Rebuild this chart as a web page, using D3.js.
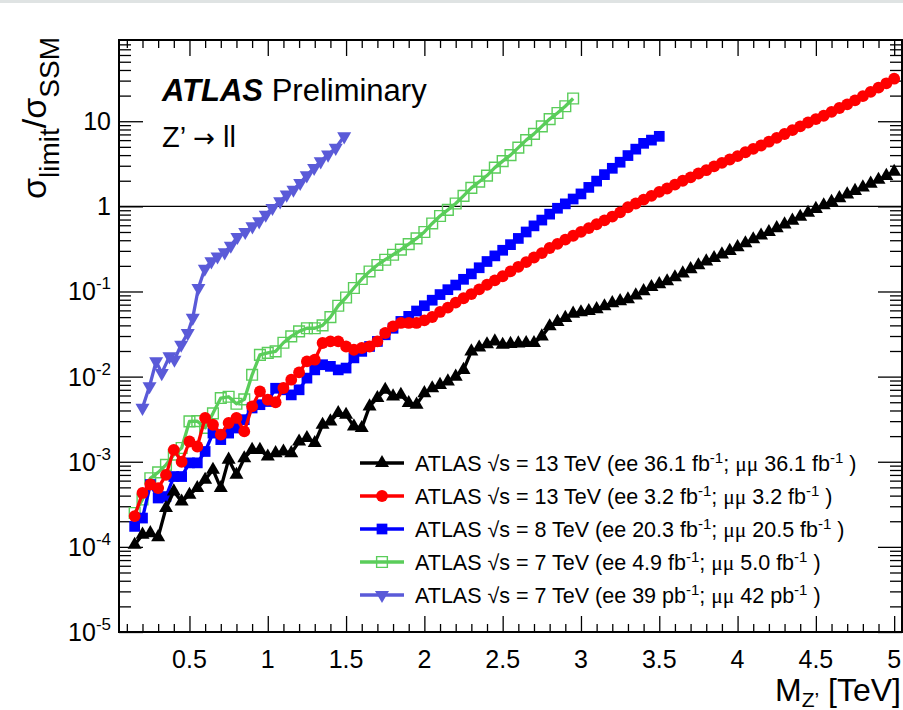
<!DOCTYPE html>
<html>
<head>
<meta charset="utf-8">
<script src="https://cdn.jsdelivr.net/npm/d3@7"></script>
<style>
body{margin:0;background:#fff;}
svg{display:block;}
text{font-family:"Liberation Sans",Arial,Helvetica,sans-serif;fill:#000;}
</style>
</head>
<body>
<div id="chart"></div>
<script>
//////////////////////データ//////////////////////
// 13 TeV 36.1 fb-1 (黒 三角)
var black_pts=[[0.15,1.06e-4],[0.20,1.39e-4],[0.25,1.45e-4],[0.30,1.30e-4],[0.35,2.86e-4],[0.40,4.48e-4],[0.45,3.41e-4],[0.50,4.09e-4],[0.55,4.91e-4],[0.60,6.14e-4],[0.65,8.05e-4],[0.70,4.91e-4],[0.75,1.06e-3],[0.80,7.03e-4],[0.85,1.10e-3],[0.90,1.38e-3],[0.95,1.38e-3],[1.00,1.15e-3],[1.05,1.26e-3],[1.10,1.32e-3],[1.15,1.26e-3],[1.20,1.73e-3],[1.25,1.90e-3],[1.30,1.66e-3],[1.35,2.72e-3],[1.40,2.98e-3],[1.45,3.73e-3],[1.50,3.56e-3],[1.55,2.60e-3],[1.60,2.49e-3],[1.65,4.47e-3],[1.70,5.61e-3],[1.75,7.0e-3],[1.80,5.85e-3],[1.85,6.12e-3],[1.90,4.9e-3],[1.95,4.68e-3],[2.00,6.4e-3],[2.05,7.3e-3],[2.10,8.0e-3],[2.15,8.8e-3],[2.20,1.0e-2],[2.25,1.2e-2],[2.30,1.98e-2],[2.35,2.2e-2],[2.40,2.4e-2],[2.45,2.59e-2],[2.50,2.37e-2],[2.55,2.42e-2],[2.60,2.46e-2],[2.65,2.48e-2],[2.70,2.48e-2],[2.75,2.97e-2],[2.80,3.9e-2],[2.85,4.4e-2],[2.90,4.9e-2],[2.95,5.5e-2],[3.00,5.7e-2],[3.05,5.9e-2],[3.10,6.2e-2],[3.15,6.7e-2],[3.20,7.3e-2],[3.25,7.7e-2],[3.30,8.1e-2],[3.35,9.0e-2],[3.40,0.101],[3.45,0.113],[3.50,0.122],[3.55,0.132],[3.60,0.147],[3.65,0.163],[3.70,0.183],[3.75,0.203],[3.80,0.226],[3.85,0.247],[3.90,0.273],[3.95,0.30],[4.00,0.332],[4.05,0.368],[4.10,0.41],[4.15,0.455],[4.20,0.50],[4.25,0.555],[4.30,0.615],[4.35,0.68],[4.40,0.755],[4.45,0.84],[4.50,0.935],[4.55,1.03],[4.60,1.13],[4.65,1.25],[4.70,1.38],[4.75,1.52],[4.80,1.67],[4.85,1.85],[4.90,2.05],[4.95,2.28],[5.00,2.55]];
// 13 TeV 3.2 fb-1 (赤 丸)
var red_pts=[[0.15,2.3e-4],[0.20,4.3e-4],[0.25,5.4e-4],[0.30,4.9e-4],[0.35,7.0e-4],[0.40,1.38e-3],[0.45,1.0e-3],[0.50,1.73e-3],[0.55,1.51e-3],[0.60,3.27e-3],[0.65,2.72e-3],[0.70,2.08e-3],[0.75,2.85e-3],[0.80,3.27e-3],[0.85,2.27e-3],[0.90,4.47e-3],[0.95,6.7e-3],[1.00,5.35e-3],[1.05,5.0e-3],[1.10,7.35e-3],[1.15,9.2e-3],[1.20,1.12e-2],[1.25,1.51e-2],[1.30,1.58e-2],[1.35,2.48e-2],[1.40,2.59e-2],[1.45,2.59e-2],[1.50,2.26e-2],[1.55,2.07e-2],[1.60,2.17e-2],[1.65,2.26e-2],[1.70,2.59e-2],[1.75,3.25e-2],[1.80,3.89e-2],[1.85,4.27e-2],[1.90,0.0427],[1.95,0.0427],[2.00,0.0457],[2.05,0.0501],[2.10,0.0575],[2.15,0.0646],[2.20,0.0741],[2.25,0.0832],[2.30,0.0933],[2.35,0.106],[2.40,0.120],[2.45,0.135],[2.50,0.151],[2.55,0.172],[2.60,0.195],[2.65,0.221],[2.70,0.251],[2.75,0.282],[2.80,0.324],[2.85,0.363],[2.90,0.407],[2.95,0.452],[3.00,0.501],[3.05,0.556],[3.10,0.617],[3.15,0.684],[3.20,0.759],[3.25,0.851],[3.30,0.977],[3.35,1.08],[3.40,1.20],[3.45,1.33],[3.50,1.48],[3.55,1.62],[3.60,1.80],[3.65,2.00],[3.70,2.19],[3.75,2.43],[3.80,2.66],[3.85,2.95],[3.90,3.24],[3.95,3.55],[4.00,3.89],[4.05,4.32],[4.10,4.73],[4.15,5.19],[4.20,5.75],[4.25,6.38],[4.30,7.08],[4.35,7.85],[4.40,8.71],[4.45,9.66],[4.50,10.6],[4.55,11.6],[4.60,12.9],[4.65,14.3],[4.70,15.8],[4.75,17.6],[4.80,19.7],[4.85,22.1],[4.90,24.8],[4.95,27.9],[5.00,31.6]];
// 8 TeV (青 四角)
var blue_pts=[[0.15,1.74e-4],[0.20,2.18e-4],[0.25,5.4e-4],[0.30,3.75e-4],[0.35,3.9e-4],[0.40,6.7e-4],[0.45,6.7e-4],[0.50,9.7e-4],[0.55,9.7e-4],[0.60,1.32e-3],[0.65,2.17e-3],[0.70,1.82e-3],[0.75,2.17e-3],[0.80,2.49e-3],[0.85,3.12e-3],[0.90,4.28e-3],[0.95,4.68e-3],[1.00,5.1e-3],[1.05,7.3e-3],[1.10,7.0e-3],[1.15,6.1e-3],[1.20,7.0e-3],[1.25,9.6e-3],[1.30,1.2e-2],[1.35,1.38e-2],[1.40,1.32e-2],[1.45,1.2e-2],[1.50,1.26e-2],[1.55,1.66e-2],[1.60,1.98e-2],[1.65,2.26e-2],[1.70,2.59e-2],[1.75,3.1e-2],[1.80,3.7e-2],[1.85,4.45e-2],[1.90,0.051],[1.95,0.059],[2.00,0.068],[2.05,0.079],[2.10,0.092],[2.15,0.105],[2.20,0.119],[2.25,0.139],[2.30,0.161],[2.35,0.190],[2.40,0.225],[2.45,0.262],[2.50,0.305],[2.55,0.355],[2.60,0.42],[2.65,0.50],[2.70,0.59],[2.75,0.69],[2.80,0.81],[2.85,0.95],[2.90,1.07],[2.95,1.22],[3.00,1.40],[3.05,1.67],[3.10,1.98],[3.15,2.36],[3.20,2.80],[3.25,3.30],[3.30,3.95],[3.35,4.70],[3.40,5.5],[3.45,6.0],[3.50,6.65]];
// 7 TeV 4.9 fb-1 (緑 白抜き四角)
var green_pts=[[0.15,2.5e-4],[0.20,3.6e-4],[0.25,6.4e-4],[0.30,7.5e-4],[0.35,9.2e-4],[0.40,1.21e-3],[0.45,1.45e-3],[0.50,2.98e-3],[0.55,3.0e-3],[0.60,2.5e-3],[0.65,3.7e-3],[0.70,5.6e-3],[0.75,5.8e-3],[0.80,4.8e-3],[0.85,5.4e-3],[0.90,1.05e-2],[0.95,1.8e-2],[1.00,1.9e-2],[1.05,1.98e-2],[1.10,2.5e-2],[1.15,2.97e-2],[1.20,3.4e-2],[1.25,3.7e-2],[1.30,3.7e-2],[1.35,4.0e-2],[1.40,5.0e-2],[1.45,6.8e-2],[1.50,8.5e-2],[1.55,0.11],[1.60,0.14],[1.65,0.172],[1.70,0.205],[1.75,0.236],[1.80,0.27],[1.85,0.31],[1.90,0.36],[1.95,0.42],[2.00,0.50],[2.05,0.63],[2.10,0.77],[2.15,0.91],[2.20,1.08],[2.25,1.33],[2.30,1.65],[2.35,1.95],[2.40,2.3],[2.45,2.85],[2.50,3.4],[2.55,4.0],[2.60,4.9],[2.65,6.0],[2.70,7.1],[2.75,8.7],[2.80,10.6],[2.85,12.5],[2.90,15.0],[2.95,18.5]];
// 7 TeV 39 pb-1 (紫 下三角)
var purple_pts=[[0.20,4.3e-3],[0.245,7.7e-3],[0.287,1.51e-2],[0.323,1.10e-2],[0.372,1.73e-2],[0.404,1.58e-2],[0.447,2.37e-2],[0.489,3.25e-2],[0.521,4.9e-2],[0.557,0.110],[0.598,0.185],[0.640,0.226],[0.679,0.258],[0.725,0.288],[0.764,0.345],[0.806,0.437],[0.856,0.500],[0.902,0.582],[0.945,0.667],[0.987,0.798],[1.030,0.958],[1.079,1.146],[1.121,1.372],[1.164,1.57],[1.207,1.88],[1.249,2.31],[1.296,2.82],[1.338,3.38],[1.385,4.05],[1.434,4.86],[1.488,6.65]];

var x_ticks=[0.5,1,1.5,2,2.5,3,3.5,4,4.5,5];
var x_tick_labels=["0.5","1","1.5","2","2.5","3","3.5","4","4.5","5"];
var y_ticks=[1e-5,1e-4,1e-3,1e-2,1e-1,1,10];
var y_tick_labels=[["10","-5"],["10","-4"],["10","-3"],["10","-2"],["10","-1"],["1",""],["10",""]];

var legend_labels=[
    {e:"13",ee:"36.1 fb",mm:"36.1 fb"},
    {e:"13",ee:"3.2 fb",mm:"3.2 fb"},
    {e:"8",ee:"20.3 fb",mm:"20.5 fb"},
    {e:"7",ee:"4.9 fb",mm:"5.0 fb"},
    {e:"7",ee:"39 pb",mm:"42 pb"}
];

//////////////////////描画パラメータ//////////////////////
var W=903,H=710;
var fL=119,fR=902,fT=40,fB=632;
var series=[
    {pts:purple_pts,color:"#5a5ad8",sym:"tdown",fill:true,leg:4},
    {pts:green_pts,color:"#5acd5a",sym:"square",fill:false,leg:3},
    {pts:blue_pts,color:"#0000ff",sym:"square",fill:true,leg:2},
    {pts:red_pts,color:"#ff0000",sym:"circle",fill:true,leg:1},
    {pts:black_pts,color:"#000000",sym:"tup",fill:true,leg:0}
];

var svg=d3.select("#chart").append("svg").attr("width",W).attr("height",H);
svg.append("rect").attr("width",W).attr("height",H).attr("fill","#fff");
svg.append("rect").attr("width",W).attr("height",3).attr("fill","#dfe3e3");

var xScale=d3.scaleLinear().domain([0.05,5.05]).range([fL,fR]);
var yScale=d3.scaleLog().domain([1e-5,90]).range([fB,fT]);

//目盛り
var x_minor=d3.range(0.1,5.01,0.1).filter(function(v){return Math.abs(v*2-Math.round(v*2))>1e-6;});
var y_minor=[];
[-5,-4,-3,-2,-1,0,1].forEach(function(p){
    for(var k=2;k<=9;k++){
        var v=k*Math.pow(10,p);
        if(v<90) y_minor.push(v);
    }
});
function noDomain(g){g.select(".domain").remove();g.selectAll("line").attr("stroke","#000").attr("stroke-width",1.3);}
svg.append("g").attr("transform","translate(0,"+fB+")").call(d3.axisBottom(xScale).tickValues(x_ticks).tickSize(-16).tickFormat("")).call(noDomain);
svg.append("g").attr("transform","translate(0,"+fB+")").call(d3.axisBottom(xScale).tickValues(x_minor).tickSize(-8).tickFormat("")).call(noDomain);
svg.append("g").attr("transform","translate(0,"+fT+")").call(d3.axisTop(xScale).tickValues(x_ticks).tickSize(-16).tickFormat("")).call(noDomain);
svg.append("g").attr("transform","translate(0,"+fT+")").call(d3.axisTop(xScale).tickValues(x_minor).tickSize(-8).tickFormat("")).call(noDomain);
svg.append("g").attr("transform","translate("+fL+",0)").call(d3.axisLeft(yScale).tickValues(y_ticks).tickSize(-24).tickFormat("")).call(noDomain);
svg.append("g").attr("transform","translate("+fL+",0)").call(d3.axisLeft(yScale).tickValues(y_minor).tickSize(-12).tickFormat("")).call(noDomain);
svg.append("g").attr("transform","translate("+fR+",0)").call(d3.axisRight(yScale).tickValues(y_ticks).tickSize(-24).tickFormat("")).call(noDomain);
svg.append("g").attr("transform","translate("+fR+",0)").call(d3.axisRight(yScale).tickValues(y_minor).tickSize(-12).tickFormat("")).call(noDomain);

//目盛りラベル
x_ticks.forEach(function(v,i){
    svg.append("text").attr("x",xScale(v)).attr("y",668).attr("text-anchor","middle")
    .attr("font-size",25).text(x_tick_labels[i]);
});
y_ticks.forEach(function(v,i){
    var t=svg.append("text").attr("x",111).attr("y",yScale(v)+9).attr("text-anchor","end").attr("font-size",25);
    t.append("tspan").text(y_tick_labels[i][0]);
    if(y_tick_labels[i][1]){
        t.append("tspan").attr("font-size",17).attr("dy",-11).text(y_tick_labels[i][1]);
    }
});

//y=1 線
svg.append("line").attr("x1",fL).attr("x2",fR).attr("y1",yScale(1)).attr("y2",yScale(1))
.attr("stroke","#000").attr("stroke-width",1.3);

//系列
function symPath(s){
    if(s=="circle") return d3.symbol().type(d3.symbolCircle).size(110)();
    if(s=="square") return d3.symbol().type(d3.symbolSquare).size(115)();
    return d3.symbol().type(d3.symbolTriangle).size(85)();
}
var line=d3.line().x(function(d){return xScale(d[0]);}).y(function(d){return yScale(d[1]);});
series.forEach(function(s){
    var g=svg.append("g");
    g.append("path").datum(s.pts).attr("d",line).attr("fill","none")
    .attr("stroke",s.color).attr("stroke-width",3.3).attr("stroke-linejoin","round");
    g.selectAll("path.m").data(s.pts).enter().append("path").attr("class","m")
    .attr("d",symPath(s.sym))
    .attr("transform",function(d){return "translate("+xScale(d[0])+","+yScale(d[1])+")"+(s.sym=="tdown"?" rotate(180)":"");})
    .attr("fill",s.fill?s.color:"none")
    .attr("stroke",s.color).attr("stroke-width",s.fill?0:1.4);
});

//枠
svg.append("rect").attr("x",fL).attr("y",fT).attr("width",fR-fL).attr("height",fB-fT)
.attr("fill","none").attr("stroke","#000").attr("stroke-width",2);

//タイトル
var t1=svg.append("text").attr("x",162).attr("y",101).attr("font-size",31);
t1.append("tspan").attr("font-weight","bold").attr("font-style","italic").text("ATLAS");
t1.append("tspan").text(" Preliminary");
var t2=svg.append("text").attr("x",162).attr("y",147).attr("font-size",29);
t2.append("tspan").text("Z’ ");
t2.append("tspan").attr("font-family","DejaVu Sans").attr("font-size",26).text("→");
t2.append("tspan").text(" ll");

//軸タイトル
var xt=svg.append("text").attr("x",901).attr("y",701).attr("text-anchor","end").attr("font-size",32);
xt.append("tspan").text("M");
xt.append("tspan").attr("font-size",21).attr("dy",6).text("Z’");
xt.append("tspan").attr("dy",-6).text(" [TeV]");

var yt=svg.append("text").attr("transform","translate(46,37) rotate(-90)").attr("text-anchor","end").attr("font-size",34);
yt.append("tspan").text("σ");
yt.append("tspan").attr("font-size",28).attr("dy",13).text("limit");
yt.append("tspan").attr("dy",-13).text("/σ");
yt.append("tspan").attr("font-size",28).attr("dy",13).text("SSM");

//凡例
var legY0=463,legDy=33;
series.forEach(function(s){
    var yy=legY0+legDy*s.leg;
    svg.append("line").attr("x1",360).attr("x2",404).attr("y1",yy).attr("y2",yy)
    .attr("stroke",s.color).attr("stroke-width",3.3);
    svg.append("path").attr("d",symPath(s.sym))
    .attr("transform","translate(382,"+yy+")"+(s.sym=="tdown"?" rotate(180)":""))
    .attr("fill",s.fill?s.color:"none").attr("stroke",s.color).attr("stroke-width",s.fill?0:1.4);
    var L=legend_labels[s.leg];
    var t=svg.append("text").attr("x",415).attr("y",yy+8).attr("font-size",21.5);
    t.append("tspan").text("ATLAS √s = "+L.e+" TeV (ee "+L.ee);
    t.append("tspan").attr("font-size",15).attr("dy",-8).text("-1");
    t.append("tspan").attr("dy",8).text("; ");
    t.append("tspan").attr("font-family","Liberation Serif").text("μμ");
    t.append("tspan").text(" "+L.mm);
    t.append("tspan").attr("font-size",15).attr("dy",-8).text("-1");
    t.append("tspan").attr("dy",8).text(" )");
});
</script>
</body>
</html>
